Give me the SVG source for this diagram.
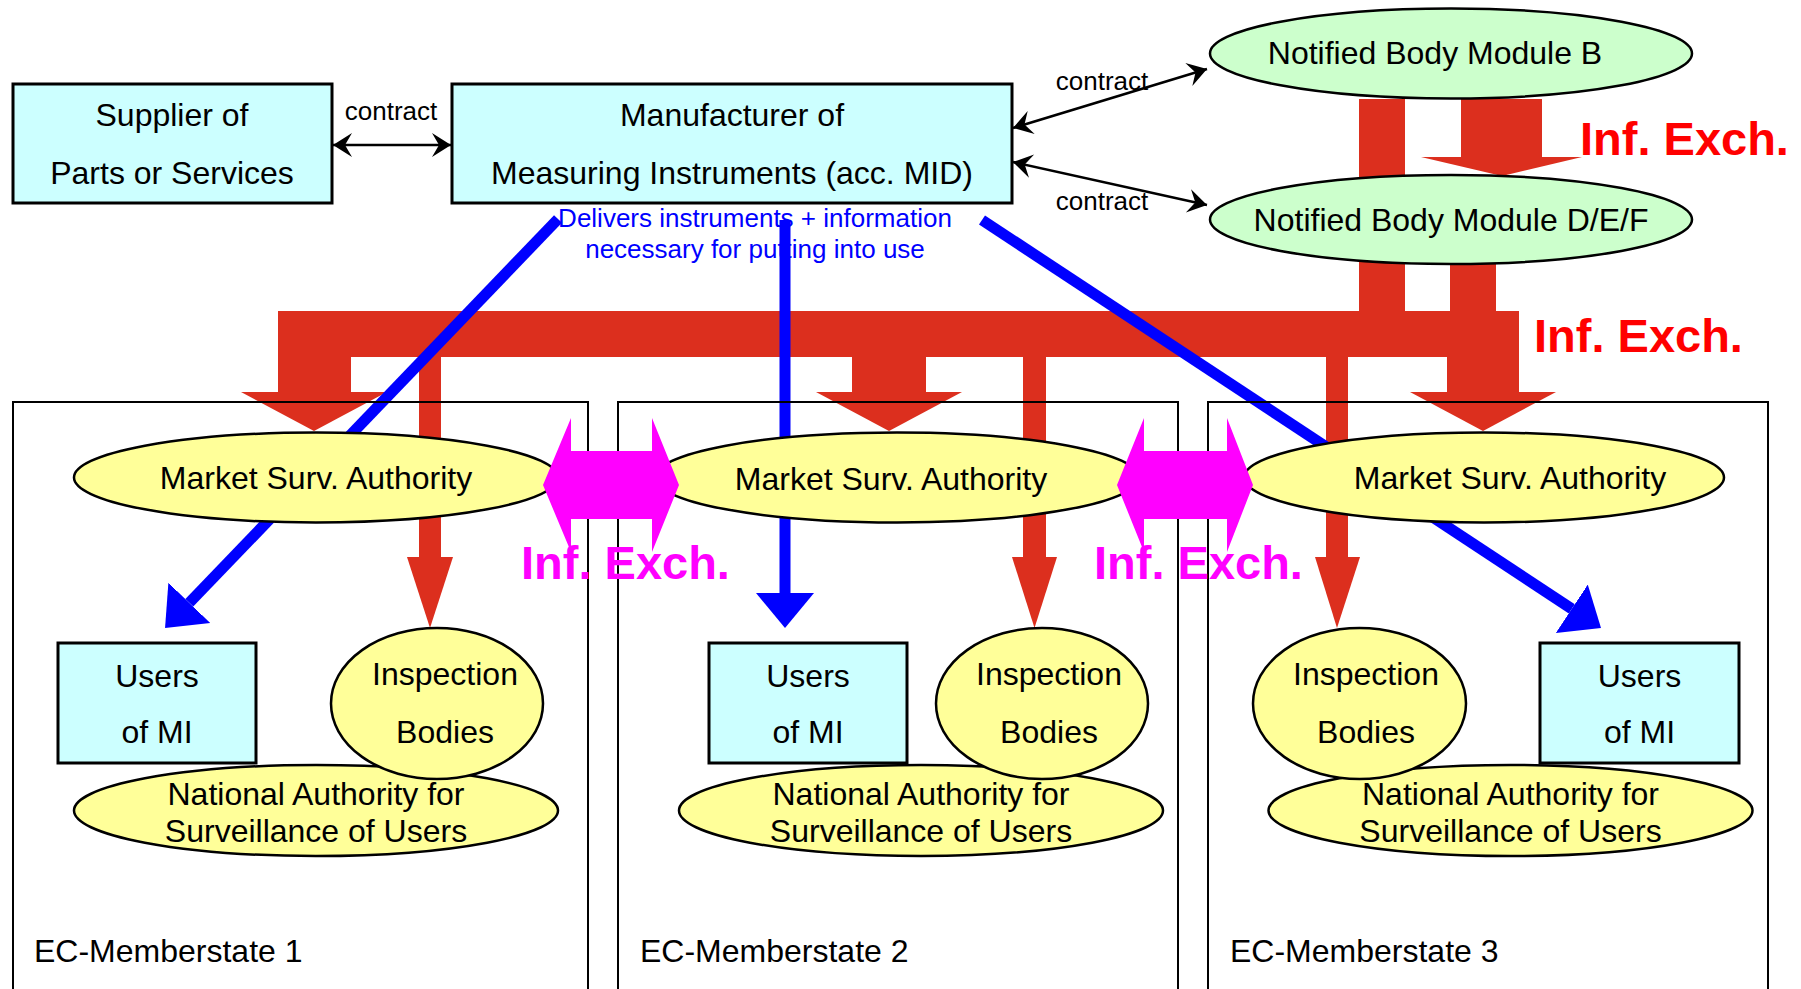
<svg xmlns="http://www.w3.org/2000/svg" width="1801" height="989" viewBox="0 0 1801 989">
<style>
.box{fill:#CCFFFF;stroke:#000;stroke-width:3}
.ey{fill:#FFFF99;stroke:#000;stroke-width:2.5}
.eg{fill:#CCFFCC;stroke:#000;stroke-width:2.5}
.ms{fill:none;stroke:#000;stroke-width:2}
text{font-family:"Liberation Sans",Arial,Helvetica,sans-serif;font-size:32px;fill:#000;text-anchor:middle}
.c{font-size:26px}
.lt{text-anchor:start}
.bl{fill:#0000FF;font-size:26px}
.red{fill:#DC2F1E}
.blue{stroke:#0000FF;stroke-width:11;fill:none}
.ctr{stroke:#000;stroke-width:2.5;fill:none}
.mag{fill:#FF00FF}
.ie{font-weight:bold;font-size:47px;text-anchor:start}
.ier{fill:#FF0000}
.iem{fill:#FF00FF}
</style>
<defs>
<marker id="stealth" markerUnits="userSpaceOnUse" viewBox="-20 -13 22 26" refX="0" refY="0" markerWidth="22" markerHeight="26" orient="auto-start-reverse">
<path d="M0,0 L-19,-12 L-12,0 L-19,12 z" fill="#000"/>
</marker>
<marker id="bhead" markerUnits="userSpaceOnUse" viewBox="0 -30 36 60" refX="0" refY="0" markerWidth="36" markerHeight="60" orient="auto">
<path d="M0,-29 L35,0 L0,29 z" fill="#0000FF"/>
</marker>
</defs>

<!-- blue text behind vertical line -->
<g id="delivers-label">
<text class="bl" x="755" y="227">Delivers instruments + information</text>
<text class="bl" x="755" y="258">necessary for putting into use</text>
</g>

<g id="connectors">
<!-- red information exchange flows -->
<g class="red">
<rect x="1359" y="99" width="46" height="214"/>
<rect x="1461" y="99" width="81" height="59"/>
<polygon points="1421,157 1582,157 1502,176"/>
<rect x="1450" y="262" width="46" height="51"/>
<rect x="278" y="311" width="1241" height="46"/>
<rect x="278" y="311" width="73" height="82"/>
<polygon points="241,392 387,392 314,431"/>
<rect x="852" y="311" width="74" height="82"/>
<polygon points="816,392 962,392 889,431"/>
<rect x="1447" y="311" width="72" height="82"/>
<polygon points="1410,392 1556,392 1483,431"/>
<rect x="419" y="355" width="22" height="203"/>
<polygon points="407,557 453,557 430,628"/>
<rect x="1023" y="355" width="23" height="203"/>
<polygon points="1012,557 1057,557 1034.5,628"/>
<rect x="1326" y="355" width="22" height="203"/>
<polygon points="1315,557 1360,557 1337,628"/>
</g>
<!-- contract arrows -->
<line class="ctr" x1="333" y1="145" x2="451" y2="145" marker-start="url(#stealth)" marker-end="url(#stealth)"/>
<line class="ctr" x1="1013" y1="128" x2="1207" y2="69" marker-start="url(#stealth)" marker-end="url(#stealth)"/>
<line class="ctr" x1="1013" y1="162" x2="1207" y2="205" marker-start="url(#stealth)" marker-end="url(#stealth)"/>
<!-- delivery of instruments -->
<line class="blue" x1="558" y1="219" x2="189.3" y2="602.8" marker-end="url(#bhead)"/>
<line class="blue" x1="785" y1="220" x2="785" y2="593" marker-end="url(#bhead)"/>
<line class="blue" x1="982" y1="220" x2="1571.8" y2="608.8" marker-end="url(#bhead)"/>
</g>

<g id="memberstate-1"><rect class="ms" x="13" y="402" width="575" height="600"/><text class="lt" x="34" y="962">EC-Memberstate 1</text></g>
<g id="memberstate-2"><rect class="ms" x="618" y="402" width="560" height="600"/><text class="lt" x="640" y="962">EC-Memberstate 2</text></g>
<g id="memberstate-3"><rect class="ms" x="1208" y="402" width="560" height="600"/><text class="lt" x="1230" y="962">EC-Memberstate 3</text></g>

<g id="supplier"><rect class="box" x="13" y="84" width="319" height="119"/><text x="172" y="126">Supplier of</text><text x="172" y="184">Parts or Services</text></g>
<g id="manufacturer"><rect class="box" x="452" y="84" width="560" height="119"/><text x="732" y="126">Manufacturer of</text><text x="732" y="184">Measuring Instruments (acc. MID)</text></g>
<g id="nb-b"><ellipse class="eg" cx="1451" cy="53.5" rx="241" ry="45"/><text x="1435" y="64">Notified Body Module B</text></g>
<g id="nb-def"><ellipse class="eg" cx="1451" cy="219.5" rx="241" ry="44.5"/><text x="1451" y="231">Notified Body Module D/E/F</text></g>

<g id="msa-1"><ellipse class="ey" cx="316" cy="477.5" rx="242" ry="45"/><text x="316" y="489">Market Surv. Authority</text></g>
<g id="msa-2"><ellipse class="ey" cx="897" cy="477.5" rx="242" ry="45"/><text x="891" y="490">Market Surv. Authority</text></g>
<g id="msa-3"><ellipse class="ey" cx="1484" cy="477.5" rx="240" ry="45"/><text x="1510" y="489">Market Surv. Authority</text></g>

<g id="users-1"><rect class="box" x="58" y="643" width="198" height="120"/><text x="157" y="687">Users</text><text x="157" y="743">of MI</text></g>
<g id="users-2"><rect class="box" x="709" y="643" width="198" height="120"/><text x="808" y="687">Users</text><text x="808" y="743">of MI</text></g>
<g id="users-3"><rect class="box" x="1540" y="643" width="199" height="120"/><text x="1639.5" y="687">Users</text><text x="1639.5" y="743">of MI</text></g>

<g id="national-1"><ellipse class="ey" cx="316" cy="810.5" rx="242" ry="45.5"/><text x="316" y="805">National Authority for</text><text x="316" y="842">Surveillance of Users</text></g>
<g id="national-2"><ellipse class="ey" cx="921" cy="810.5" rx="242" ry="45.5"/><text x="921" y="805">National Authority for</text><text x="921" y="842">Surveillance of Users</text></g>
<g id="national-3"><ellipse class="ey" cx="1510.5" cy="810.5" rx="242" ry="45.5"/><text x="1510.5" y="805">National Authority for</text><text x="1510.5" y="842">Surveillance of Users</text></g>

<g id="inspection-1"><ellipse class="ey" cx="437" cy="703.5" rx="106" ry="75.5"/><text x="445" y="685">Inspection</text><text x="445" y="743">Bodies</text></g>
<g id="inspection-2"><ellipse class="ey" cx="1042" cy="703.5" rx="106" ry="75.5"/><text x="1049" y="685">Inspection</text><text x="1049" y="743">Bodies</text></g>
<g id="inspection-3"><ellipse class="ey" cx="1359.5" cy="703.5" rx="106.5" ry="75.5"/><text x="1366" y="685">Inspection</text><text x="1366" y="743">Bodies</text></g>

<g id="exchange-connectors" class="mag">
<polygon points="543,485 571,418 571,451 652,451 652,418 679,485 652,552 652,519 571,519 571,552"/>
<polygon points="1117,485 1144,418 1144,451 1227,451 1227,418 1253,485 1227,552 1227,519 1144,519 1144,552"/>
</g>

<g id="labels">
<text class="c" x="391" y="120">contract</text>
<text class="c" x="1102" y="90">contract</text>
<text class="c" x="1102" y="210">contract</text>
<text class="ie ier" x="1580" y="155">Inf. Exch.</text>
<text class="ie ier" x="1534" y="352">Inf. Exch.</text>
<text class="ie iem" x="521" y="579">Inf. Exch.</text>
<text class="ie iem" x="1094" y="579">Inf. Exch.</text>
</g>
</svg>
